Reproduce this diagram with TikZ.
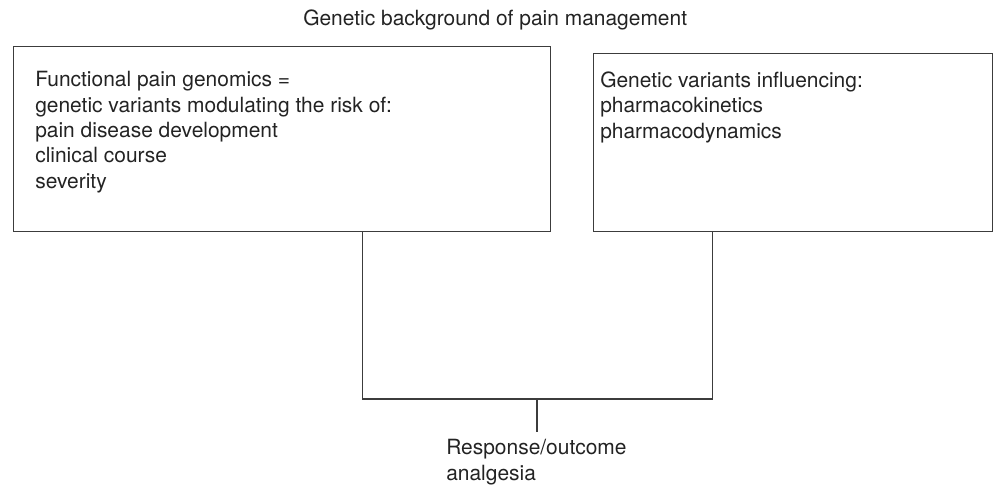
\documentclass[tikz,border=0pt]{standalone}
\usepackage{fontspec}
\setmainfont{TeX Gyre Heros}
\usetikzlibrary{calc}
\definecolor{ink}{RGB}{35, 35, 35}
\definecolor{rule}{RGB}{60, 60, 60}
\tikzset{
    panel/.style={draw=rule, line width=0.8pt, inner sep=0pt, anchor=north west},
    words/.style={text=ink, inner sep=0pt, anchor=base west, align=left,
        font=\fontsize{14.9pt}{18pt}\selectfont},
    wire/.style={draw=rule, line width=0.8pt}
}

\begin{document}
\begin{tikzpicture}[x=0.025cm, y=-0.025cm]
        \useasboundingbox (0,0) rectangle (994,488);
        \node[words] (title) at (303,25) {Genetic background of pain management};
        \node[panel, minimum width=13.425cm, minimum height=4.625cm] (genomics) at (13,46) {};
        \node[panel, minimum width=9.975cm, minimum height=4.45cm] (kinetics) at (593,53) {};
        % base anchor sits on the last line
        \node[words] (genomicstext) at (35,188) {Functional pain genomics =\\genetic variants modulating the risk of:\\pain disease development\\clinical course\\severity};
        \node[words] (kineticstext) at (600,138) {Genetic variants influencing:\\pharmacokinetics\\pharmacodynamics};
        \node[words] (outcome) at (446,480) {Response/outcome\\analgesia};
        \coordinate (fork) at (537,399);
        \coordinate (stemend) at (537,432);
        \draw[wire] ($(genomics.south west)!0.65!(genomics.south east)$) |- (fork) -| ($(kinetics.south west)!0.298!(kinetics.south east)$);
        \draw[wire] (fork) -- (stemend);
    \end{tikzpicture}
\end{document}
